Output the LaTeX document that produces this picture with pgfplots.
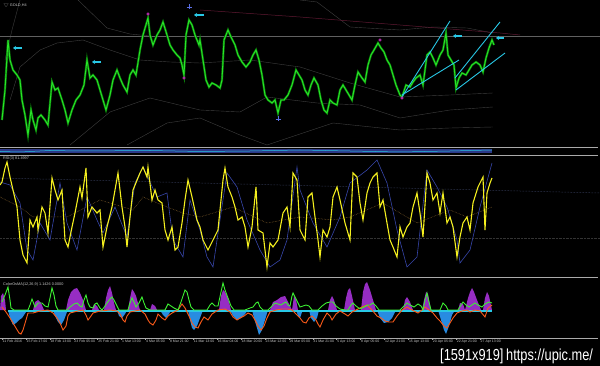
\documentclass[border=0pt]{standalone}
\usepackage{pgfplots}
\pgfplotsset{compat=1.18}
\usepackage{fontspec}
\setmainfont{Liberation Sans}
\usepackage{graphicx}
\usetikzlibrary{arrows.meta}
\definecolor{price}{RGB}{40,230,40}
\definecolor{pricedk}{RGB}{10,120,10}
\definecolor{band}{RGB}{62,62,62}
\definecolor{maroon}{RGB}{95,25,50}
\definecolor{tcyan}{RGB}{40,200,230}
\definecolor{fracp}{RGB}{180,40,170}
\definecolor{fracb}{RGB}{90,110,230}
\definecolor{sep}{RGB}{170,170,170}
\definecolor{rsiy}{RGB}{245,240,30}
\definecolor{rsib}{RGB}{55,70,170}
\definecolor{rsima}{RGB}{150,110,50}
\definecolor{lvl}{RGB}{70,80,120}
\definecolor{hpur}{RGB}{150,45,195}
\definecolor{hblu}{RGB}{40,140,225}
\definecolor{lgrn}{RGB}{60,240,50}
\definecolor{lora}{RGB}{250,90,25}
\definecolor{txt}{RGB}{200,200,200}
\begin{document}
\begin{tikzpicture}
\fill[black] (0,0) rectangle (600pt,366pt);
\useasboundingbox (0,0) rectangle (600pt,366pt);
\begin{axis}[at={(0pt,0pt)}, anchor=south west, scale only axis,
  width=600pt, height=366pt, xmin=0, xmax=600, ymin=0, ymax=366,
  y dir=reverse, hide axis, clip=true]
% ---- main panel: dim bands ----
\addplot[band, line width=0.4pt] coordinates {(10,100)(20,67)(40,50)(57,43)(83,40)(110,50)(140,60)(170,62)(200,63)(250,60)(300,67)(350,83)(400,97)(450,95)(493,93)};
\addplot[band, line width=0.4pt] coordinates {(70,145)(110,112)(150,98)(200,110)(240,112)(267,97)(317,103)(360,105)(400,118)(450,110)(493,107)};
\addplot[band, line width=0.4pt] coordinates {(127,145)(167,123)(200,118)(240,135)(267,145)(333,123)(400,130)(450,128)(493,127)};
\addplot[band, line width=0.4pt] coordinates {(78,0)(107,28)(130,34)(150,36)};
\addplot[band, line width=0.4pt] coordinates {(300,0)(317,2)(350,27)(400,30)(433,27)(467,28)(493,33)};
\addplot[band, line width=0.4pt] coordinates {(5,60)(12,30)(20,0)};
\addplot[maroon, line width=0.5pt] coordinates {(200,10)(300,17)(400,25)(500,33)(520,35)};
\addplot[gray!75!black, line width=0.5pt] coordinates {(0,36)(600,36)};
% ---- price ----
\addplot[pricedk, line width=2.2pt] coordinates {(2,120)(5,90)(8,40)(10,60)(13,70)(17,75)(20,80)(22,100)(25,115)(28,135)(31,110)(33,120)(36,130)(38,118)(41,115)(45,120)(48,125)(52,82)(55,90)(58,88)(62,100)(65,110)(68,123)(72,110)(76,100)(80,95)(84,85)(87,60)(90,78)(93,75)(97,80)(100,90)(103,100)(106,110)(110,95)(113,80)(117,70)(120,78)(123,85)(127,92)(130,75)(133,70)(136,75)(140,50)(143,35)(148,18)(150,35)(153,45)(157,35)(160,30)(163,22)(167,35)(170,45)(173,50)(177,55)(180,58)(182,65)(184,75)(186,35)(189,20)(192,25)(195,35)(199,45)(200,40)(203,60)(206,80)(209,87)(212,83)(216,85)(220,88)(222,80)(224,40)(228,30)(231,37)(235,45)(238,55)(242,62)(246,67)(250,62)(253,55)(256,50)(259,60)(262,75)(265,95)(268,100)(272,103)(275,100)(278,113)(281,100)(284,100)(288,95)(292,85)(296,70)(299,75)(302,80)(305,90)(308,95)(311,85)(314,78)(318,85)(321,100)(324,110)(327,113)(330,100)(333,103)(337,105)(340,90)(343,85)(346,90)(349,95)(352,100)(355,85)(358,72)(362,78)(365,82)(368,65)(371,55)(374,50)(378,43)(381,48)(384,52)(387,60)(390,65)(393,75)(396,85)(400,95)(402,97)(406,85)(410,87)(413,82)(416,78)(420,75)(423,85)(427,55)(430,52)(433,58)(436,65)(440,55)(443,50)(446,33)(448,55)(451,60)(454,65)(456,88)(459,78)(462,73)(466,75)(469,70)(472,65)(476,62)(480,65)(483,72)(486,58)(489,48)(492,40)(494,45)};
\addplot[price, line width=0.9pt] coordinates {(2,120)(5,90)(8,40)(10,60)(13,70)(17,75)(20,80)(22,100)(25,115)(28,135)(31,110)(33,120)(36,130)(38,118)(41,115)(45,120)(48,125)(52,82)(55,90)(58,88)(62,100)(65,110)(68,123)(72,110)(76,100)(80,95)(84,85)(87,60)(90,78)(93,75)(97,80)(100,90)(103,100)(106,110)(110,95)(113,80)(117,70)(120,78)(123,85)(127,92)(130,75)(133,70)(136,75)(140,50)(143,35)(148,18)(150,35)(153,45)(157,35)(160,30)(163,22)(167,35)(170,45)(173,50)(177,55)(180,58)(182,65)(184,75)(186,35)(189,20)(192,25)(195,35)(199,45)(200,40)(203,60)(206,80)(209,87)(212,83)(216,85)(220,88)(222,80)(224,40)(228,30)(231,37)(235,45)(238,55)(242,62)(246,67)(250,62)(253,55)(256,50)(259,60)(262,75)(265,95)(268,100)(272,103)(275,100)(278,113)(281,100)(284,100)(288,95)(292,85)(296,70)(299,75)(302,80)(305,90)(308,95)(311,85)(314,78)(318,85)(321,100)(324,110)(327,113)(330,100)(333,103)(337,105)(340,90)(343,85)(346,90)(349,95)(352,100)(355,85)(358,72)(362,78)(365,82)(368,65)(371,55)(374,50)(378,43)(381,48)(384,52)(387,60)(390,65)(393,75)(396,85)(400,95)(402,97)(406,85)(410,87)(413,82)(416,78)(420,75)(423,85)(427,55)(430,52)(433,58)(436,65)(440,55)(443,50)(446,33)(448,55)(451,60)(454,65)(456,88)(459,78)(462,73)(466,75)(469,70)(472,65)(476,62)(480,65)(483,72)(486,58)(489,48)(492,40)(494,45)};
% trend channels
\addplot[tcyan, line width=0.9pt] coordinates {(402,97)(450,21)};
\addplot[tcyan, line width=0.9pt] coordinates {(402,95)(459,60)};
\addplot[tcyan, line width=0.9pt] coordinates {(455,78)(500,22)};
\addplot[tcyan, line width=0.9pt] coordinates {(456,90)(505,53)};
% arrows
\addplot[tcyan, line width=1.6pt, -{Stealth[length=3pt,width=4pt]}] coordinates {(22,48)(13,48)};
\addplot[tcyan, line width=1.6pt, -{Stealth[length=3pt,width=4pt]}] coordinates {(101,62)(92,62)};
\addplot[tcyan, line width=1.6pt, -{Stealth[length=3pt,width=4pt]}] coordinates {(204,15)(194,15)};
\addplot[tcyan, line width=1.6pt, -{Stealth[length=3pt,width=4pt]}] coordinates {(462,36)(453,36)};
\addplot[tcyan, line width=1.6pt, -{Stealth[length=3pt,width=4pt]}] coordinates {(504,38)(496,38)};
% fractals
\addplot[only marks, mark=*, mark size=1.3pt, fracp] coordinates {(148,14)(184,78)(380,40)(402,98)};
\addplot[only marks, mark=+, mark size=2.5pt, line width=0.8pt, fracb] coordinates {(189,7)(278,119)};
% ---- separators and strip ----
\addplot[sep, line width=0.6pt] coordinates {(0,147)(598,147)};
\addplot[fill=rsib!80!black, draw=none] coordinates {(0,149)(492,149)(492,153.5)(0,153.5)} -- cycle;
\addplot[tcyan, line width=0.5pt] coordinates {(0,151.5)(20,152)(50,150.5)(80,151)(150,150.5)(200,151.5)(250,151)(300,150)(350,151)(400,152)(450,151)(492,150)};
\addplot[sep, line width=0.6pt] coordinates {(0,155)(598,155)};
% ---- RSI ----
\addplot[lvl, densely dotted, line width=0.5pt] coordinates {(0,178)(600,193)};
\addplot[gray!40!black, densely dotted, line width=0.4pt] coordinates {(0,238)(600,238)};
\addplot[rsima, densely dotted, line width=0.5pt] coordinates {(0,197)(20,207)(33,217)(67,217)(100,200)(133,210)(143,197)(167,207)(183,213)(200,217)(233,207)(267,223)(300,217)(333,220)(350,217)(383,203)(417,223)(450,210)(467,217)(492,207)};
\addplot[rsib, line width=0.6pt] coordinates {(0,182)(10,185)(20,203)(27,250)(33,260)(40,223)(50,240)(60,183)(67,223)(77,250)(87,197)(97,220)(103,233)(115,207)(127,237)(135,183)(143,167)(157,197)(167,193)(173,240)(183,257)(190,200)(200,230)(207,257)(213,267)(220,220)(227,173)(237,187)(247,220)(260,250)(270,267)(280,260)(287,240)(297,167)(300,190)(313,223)(327,247)(340,217)(350,183)(367,170)(377,160)(387,183)(397,230)(407,267)(417,257)(427,170)(437,187)(447,207)(457,240)(460,263)(470,250)(480,207)(492,163)};
\addplot[rsiy, line width=1.1pt] coordinates {(0,185)(2,182)(5,168)(7,162)(10,177)(13,190)(17,207)(20,240)(23,255)(27,263)(30,220)(33,227)(37,217)(38,230)(42,207)(45,213)(48,233)(52,178)(55,190)(58,200)(62,190)(65,240)(68,247)(72,227)(75,213)(80,187)(82,198)(86,168)(88,217)(92,207)(97,213)(100,210)(103,247)(107,227)(112,207)(118,173)(122,207)(125,227)(127,247)(130,217)(133,190)(140,173)(143,167)(147,177)(148,167)(152,200)(155,190)(158,200)(162,203)(165,230)(168,240)(172,227)(175,250)(178,247)(182,223)(185,200)(188,180)(192,197)(197,220)(200,227)(203,240)(208,250)(213,240)(218,230)(223,180)(225,168)(228,187)(232,197)(235,207)(238,220)(242,217)(245,227)(248,247)(252,227)(256,187)(258,230)(263,233)(267,267)(270,243)(273,247)(278,240)(283,213)(287,207)(290,227)(293,173)(297,180)(300,230)(305,240)(308,197)(312,193)(315,217)(318,240)(320,257)(323,230)(327,237)(330,227)(333,197)(337,187)(340,200)(345,223)(350,240)(353,173)(357,177)(360,203)(363,220)(367,193)(370,183)(373,177)(377,173)(380,207)(383,200)(387,223)(390,240)(393,247)(397,257)(400,227)(403,237)(407,227)(410,223)(413,207)(417,193)(420,213)(423,237)(427,173)(430,183)(433,200)(437,193)(440,213)(443,193)(447,223)(450,217)(453,227)(457,257)(460,237)(463,223)(467,217)(470,230)(473,203)(478,187)(483,177)(485,230)(487,193)(490,183)(492,178)};
\addplot[sep, line width=0.6pt] coordinates {(0,277)(598,277)};
% ---- OsMA histogram ----
\addplot[fill=hpur, draw=none] coordinates {(0,310)(1,296)(3,293)(5,300)(6,310)} -- cycle;
\addplot[fill=hpur, draw=none] coordinates {(33,310)(35,302)(38,300)(41,303)(44,310)} -- cycle;
\addplot[fill=hpur, draw=none] coordinates {(66,310)(68,300)(71,292)(74,289)(77,288)(80,293)(83,300)(86,310)} -- cycle;
\addplot[fill=hpur, draw=none] coordinates {(92,310)(94,304)(97,306)(99,310)} -- cycle;
\addplot[fill=hpur, draw=none] coordinates {(104,310)(106,298)(108,290)(110,286)(112,293)(114,303)(116,310)} -- cycle;
\addplot[fill=hpur, draw=none] coordinates {(128,310)(130,298)(132,289)(134,292)(136,296)(138,303)(140,310)} -- cycle;
\addplot[fill=hpur, draw=none] coordinates {(150,310)(152,304)(155,306)(157,310)} -- cycle;
\addplot[fill=hpur, draw=none] coordinates {(219,310)(221,296)(223,290)(225,292)(228,298)(231,310)} -- cycle;
\addplot[fill=hpur, draw=none] coordinates {(270,310)(273,302)(277,300)(281,297)(285,296)(289,304)(292,310)} -- cycle;
\addplot[fill=hpur, draw=none] coordinates {(292,310)(294,296)(296,300)(298,310)} -- cycle;
\addplot[fill=hpur, draw=none] coordinates {(328,310)(330,300)(332,296)(334,300)(337,310)} -- cycle;
\addplot[fill=hpur, draw=none] coordinates {(344,310)(346,298)(348,290)(350,288)(352,296)(355,310)} -- cycle;
\addplot[fill=hpur, draw=none] coordinates {(361,310)(363,292)(365,284)(367,282)(370,290)(373,300)(376,310)} -- cycle;
\addplot[fill=hpur, draw=none] coordinates {(403,310)(405,300)(407,297)(410,302)(413,310)} -- cycle;
\addplot[fill=hpur, draw=none] coordinates {(422,310)(424,300)(426,292)(428,294)(431,310)} -- cycle;
\addplot[fill=hpur, draw=none] coordinates {(458,310)(460,303)(463,304)(465,310)} -- cycle;
\addplot[fill=hpur, draw=none] coordinates {(465,310)(468,298)(470,292)(472,288)(474,292)(477,300)(481,310)} -- cycle;
\addplot[fill=hpur, draw=none] coordinates {(483,310)(485,298)(487,292)(489,296)(492,310)} -- cycle;
\addplot[fill=hblu, draw=none] coordinates {(8,310)(10,318)(13,325)(16,323)(19,320)(22,318)(26,312)(28,310)} -- cycle;
\addplot[fill=hblu, draw=none] coordinates {(53,310)(55,316)(58,322)(61,325)(64,320)(67,312)(69,310)} -- cycle;
\addplot[fill=hblu, draw=none] coordinates {(117,310)(119,316)(122,318)(125,314)(127,310)} -- cycle;
\addplot[fill=hblu, draw=none] coordinates {(160,310)(163,315)(166,318)(169,314)(171,310)} -- cycle;
\addplot[fill=hblu, draw=none] coordinates {(188,310)(190,320)(192,328)(194,330)(197,326)(200,318)(203,310)} -- cycle;
\addplot[fill=hblu, draw=none] coordinates {(230,310)(233,316)(237,320)(241,318)(245,314)(248,310)} -- cycle;
\addplot[fill=hblu, draw=none] coordinates {(252,310)(254,318)(257,328)(259,335)(262,330)(265,320)(268,310)} -- cycle;
\addplot[fill=hblu, draw=none] coordinates {(296,310)(298,316)(300,318)(302,312)(304,310)} -- cycle;
\addplot[fill=hblu, draw=none] coordinates {(309,310)(311,318)(314,322)(317,318)(319,310)} -- cycle;
\addplot[fill=hblu, draw=none] coordinates {(377,310)(380,318)(384,323)(388,322)(392,318)(396,310)} -- cycle;
\addplot[fill=hblu, draw=none] coordinates {(438,310)(441,320)(444,330)(446,334)(449,326)(452,315)(455,310)} -- cycle;
\addplot[tcyan, line width=1.2pt] coordinates {(8,311)(492,311)};
% ---- OsMA lines ----
\addplot[lora, line width=0.9pt] coordinates {(2,307)(6,312)(10,318)(13,323)(16,328)(19,333)(21,334)(23,330)(26,320)(28,313)(33,313)(40,311)(48,310)(53,313)(57,318)(60,323)(63,330)(66,326)(68,316)(70,313)(78,311)(83,310)(86,315)(88,320)(91,316)(93,313)(100,311)(110,310)(117,311)(120,314)(123,320)(125,322)(127,316)(130,312)(140,310)(145,314)(148,320)(150,323)(153,325)(156,320)(158,314)(162,318)(165,320)(168,316)(172,313)(178,310)(182,304)(185,308)(189,316)(192,323)(195,327)(198,328)(201,322)(204,317)(208,320)(212,314)(218,310)(225,309)(230,312)(233,317)(237,320)(240,318)(244,316)(248,313)(252,315)(255,320)(258,326)(261,330)(264,326)(267,318)(270,312)(276,310)(282,309)(288,309)(292,310)(296,314)(300,318)(303,322)(306,323)(309,318)(312,316)(316,320)(318,324)(320,327)(323,320)(327,313)(330,316)(332,320)(336,314)(340,311)(345,314)(348,316)(352,312)(356,310)(362,307)(367,305)(372,310)(377,316)(381,318)(385,321)(389,322)(393,322)(397,316)(402,310)(407,307)(412,310)(418,313)(422,310)(425,307)(429,310)(433,313)(437,318)(440,321)(444,326)(447,328)(450,323)(453,318)(457,313)(462,311)(467,310)(470,312)(475,310)(480,311)(485,317)(488,308)(492,305)};
\addplot[lgrn, line width=0.9pt] coordinates {(2,302)(5,295)(8,287)(10,300)(11,308)(14,310)(20,310)(28,310)(30,305)(32,299)(35,307)(38,303)(42,303)(45,306)(48,307)(50,298)(52,288)(54,295)(56,306)(58,310)(67,310)(70,307)(74,304)(77,303)(80,306)(82,307)(84,300)(86,295)(88,303)(90,307)(93,308)(95,304)(97,303)(100,308)(102,310)(105,306)(107,303)(110,299)(112,297)(114,300)(116,304)(119,310)(128,310)(130,303)(132,298)(134,302)(136,307)(139,303)(142,297)(144,303)(146,308)(150,310)(165,310)(168,304)(171,306)(174,308)(178,310)(181,302)(183,296)(185,290)(187,292)(189,300)(191,307)(194,310)(207,310)(210,305)(212,303)(215,306)(218,306)(221,292)(223,283)(225,290)(228,298)(231,306)(234,310)(245,310)(250,308)(253,307)(256,303)(258,302)(260,307)(263,310)(268,310)(272,306)(275,303)(278,304)(281,305)(284,303)(286,302)(288,305)(290,306)(292,296)(293,293)(295,297)(297,301)(300,307)(303,306)(306,305)(309,306)(312,310)(318,310)(322,306)(326,303)(330,302)(333,302)(336,306)(340,309)(345,310)(348,310)(351,305)(353,303)(356,306)(360,309)(364,307)(368,305)(370,305)(373,303)(376,306)(379,310)(384,310)(390,310)(400,310)(404,306)(407,303)(410,305)(414,307)(418,304)(421,306)(423,310)(425,300)(427,293)(429,302)(431,310)(440,310)(443,303)(446,306)(448,310)(458,310)(461,305)(463,302)(466,305)(469,307)(472,305)(475,303)(478,305)(482,307)(485,304)(487,303)(489,302)(492,303)};
% ---- texts ----
\node[anchor=west, inner sep=0pt, text=txt, font=\fontsize{3.8}{4}\selectfont] at (axis cs:3,5) {{\color{gray}$\bigtriangledown$}\,GOLD,H4};
\node[anchor=west, inner sep=0pt, text=txt, font=\fontsize{3.8}{4}\selectfont] at (axis cs:3,158.5) {RSI(3) 81.4997};
\node[anchor=west, inner sep=0pt, text=txt, font=\fontsize{3.8}{4}\selectfont] at (axis cs:3,285) {ColorOsMA(12,26,9) 1.1426 0.0000};
\node[anchor=base west, inner sep=0pt, text=white, font=\fontsize{16}{18}\selectfont] at (axis cs:440,360) {\scalebox{0.8}[1]{[1591x919]}\,\scalebox{0.8}[1]{https://upic.me/}};
\end{axis}
% ---- time axis ----
\begin{axis}[at={(0pt,28pt)}, anchor=south west, scale only axis,
  width=598pt, height=8pt, xmin=0, xmax=598, ymin=0, ymax=1,
  axis x line=bottom, axis y line=none,
  x axis line style={sep, line width=0.6pt, -},
  tick style={sep, line width=0.4pt}, major tick length=2pt, tick align=outside,
  xtick={2,25.9,49.8,73.7,97.6,121.5,145.4,169.3,193.2,217.1,241,264.9,288.8,312.7,336.6,360.5,384.4,408.3,432.2,456.1,480},
  xticklabels={11 Feb 2016,15 Feb 17:00,18 Feb 13:00,23 Feb 05:00,25 Feb 21:00,1 Mar 13:00,4 Mar 05:00,8 Mar 21:00,11 Mar 13:00,16 Mar 04:00,18 Mar 20:00,23 Mar 12:00,29 Mar 05:00,31 Mar 21:00,5 Apr 13:00,8 Apr 05:00,12 Apr 21:00,15 Apr 13:00,20 Apr 05:00,22 Apr 21:00,27 Apr 13:00},
  xticklabel style={anchor=north west, inner sep=0.5pt, text=txt, font=\fontsize{3.5}{4}\selectfont, yshift=0.5pt}]
\addplot[draw=none] coordinates {(0,0)(598,1)};
\end{axis}
\end{tikzpicture}
\end{document}
